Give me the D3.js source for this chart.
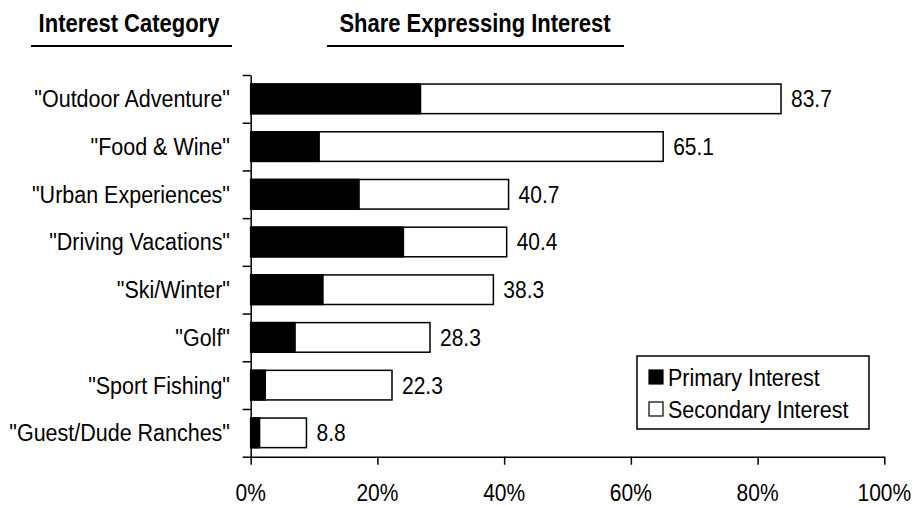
<!DOCTYPE html>
<html>
<head>
<meta charset="utf-8">
<script src="https://cdn.jsdelivr.net/npm/d3@7"></script>
<style>
	body { margin: 0; background: #fff; }
	text { font-family: "Liberation Sans", Arial, sans-serif; fill: #000; }
</style>
</head>
<body>
<svg id="chart" width="914" height="506"></svg>
<script>
const CATEGORIES = ['"Outdoor Adventure"', '"Food & Wine"', '"Urban Experiences"', '"Driving Vacations"',
	'"Ski/Winter"', '"Golf"', '"Sport Fishing"', '"Guest/Dude Ranches"'];
const PRIMARY = [26.8, 10.8, 17.1, 24.1, 11.4, 7.0, 2.3, 1.4];
const TOTAL = [83.7, 65.1, 40.7, 40.4, 38.3, 28.3, 22.3, 8.8];
const X_TICKS = [0, 20, 40, 60, 80, 100];
const LEGEND = ['Primary Interest', 'Secondary Interest'];

// text in the original is a bit taller than wide
const SY = 1.15;

function stretchText(g, x, y, str, anchor, size, weight) {
	return g.append('text')
		.attr('transform', `translate(${x},${y}) scale(1,${SY})`)
		.attr('text-anchor', anchor)
		.style('font-size', size + 'px')
		.style('font-weight', weight || 'normal')
		.text(str);
}

const svg = d3.select('#chart');

const x = d3.scaleLinear().domain([0, 100]).range([250.7, 884.3]);
const y = d3.scaleBand().domain(CATEGORIES).range([75, 456.7]).paddingInner(0.38).paddingOuter(0.19);
const yEdge = d3.scaleLinear().domain([0, CATEGORIES.length]).range([75, 456.7]);

// headers
stretchText(svg, 129, 32, 'Interest Category', 'middle', 22, 'bold');
stretchText(svg, 475, 32, 'Share Expressing Interest', 'middle', 22, 'bold');
svg.append('line').attr('x1', 31).attr('x2', 232).attr('y1', 46).attr('y2', 46)
	.attr('stroke', '#000').attr('stroke-width', 2);
svg.append('line').attr('x1', 327).attr('x2', 624).attr('y1', 46).attr('y2', 46)
	.attr('stroke', '#000').attr('stroke-width', 2);

const data = CATEGORIES.map((c, i) => ({ name: c, primary: PRIMARY[i], total: TOTAL[i] }));

// secondary (whole bar) then primary on top
svg.selectAll('rect.total')
	.data(data)
	.enter()
	.append('rect')
	.attr('class', 'total')
	.attr('x', x(0))
	.attr('y', (d) => y(d.name))
	.attr('width', (d) => x(d.total) - x(0))
	.attr('height', y.bandwidth())
	.attr('fill', '#fff')
	.attr('stroke', '#000')
	.attr('stroke-width', 1.5);

svg.selectAll('rect.primary')
	.data(data)
	.enter()
	.append('rect')
	.attr('class', 'primary')
	.attr('x', x(0))
	.attr('y', (d) => y(d.name))
	.attr('width', (d) => x(d.primary) - x(0))
	.attr('height', y.bandwidth())
	.attr('fill', '#000')
	.attr('stroke', '#000')
	.attr('stroke-width', 1.5);

// value labels
data.forEach((d) => {
	stretchText(svg, x(d.total) + 10, y(d.name) + y.bandwidth() / 2 + 8.5, d.total.toFixed(1), 'start', 21);
	stretchText(svg, 230, y(d.name) + y.bandwidth() / 2 + 8.5, d.name, 'end', 21.5);
});

// axes
const yAxis = d3.axisLeft(yEdge).ticks(CATEGORIES.length).tickSize(8).tickSizeOuter(0).tickFormat('');
svg.append('g').attr('transform', `translate(${x(0)},0)`).call(yAxis)
	.call((g) => g.selectAll('line, path').attr('stroke', '#000').attr('stroke-width', 1.5));

const xAxis = d3.axisBottom(x).tickValues(X_TICKS).tickSize(8).tickSizeOuter(0).tickFormat('');
svg.append('g').attr('transform', `translate(0,${yEdge(CATEGORIES.length)})`).call(xAxis)
	.call((g) => g.selectAll('line, path').attr('stroke', '#000').attr('stroke-width', 1.5));

X_TICKS.forEach((t) => stretchText(svg, x(t), 501, t + '%', 'middle', 21));

// legend
const lg = svg.append('g');
lg.append('rect').attr('x', 637).attr('y', 356).attr('width', 232).attr('height', 73)
	.attr('fill', '#fff').attr('stroke', '#000').attr('stroke-width', 1.5);
LEGEND.forEach((l, i) => {
	const cy = 377 + i * 32;
	lg.append('rect').attr('x', 649).attr('y', cy - 7).attr('width', 14).attr('height', 14)
		.attr('fill', i === 0 ? '#000' : '#fff').attr('stroke', '#000').attr('stroke-width', 1.2);
	stretchText(lg, 668, cy + 8.5, l, 'start', 21.5);
});
</script>
</body>
</html>
